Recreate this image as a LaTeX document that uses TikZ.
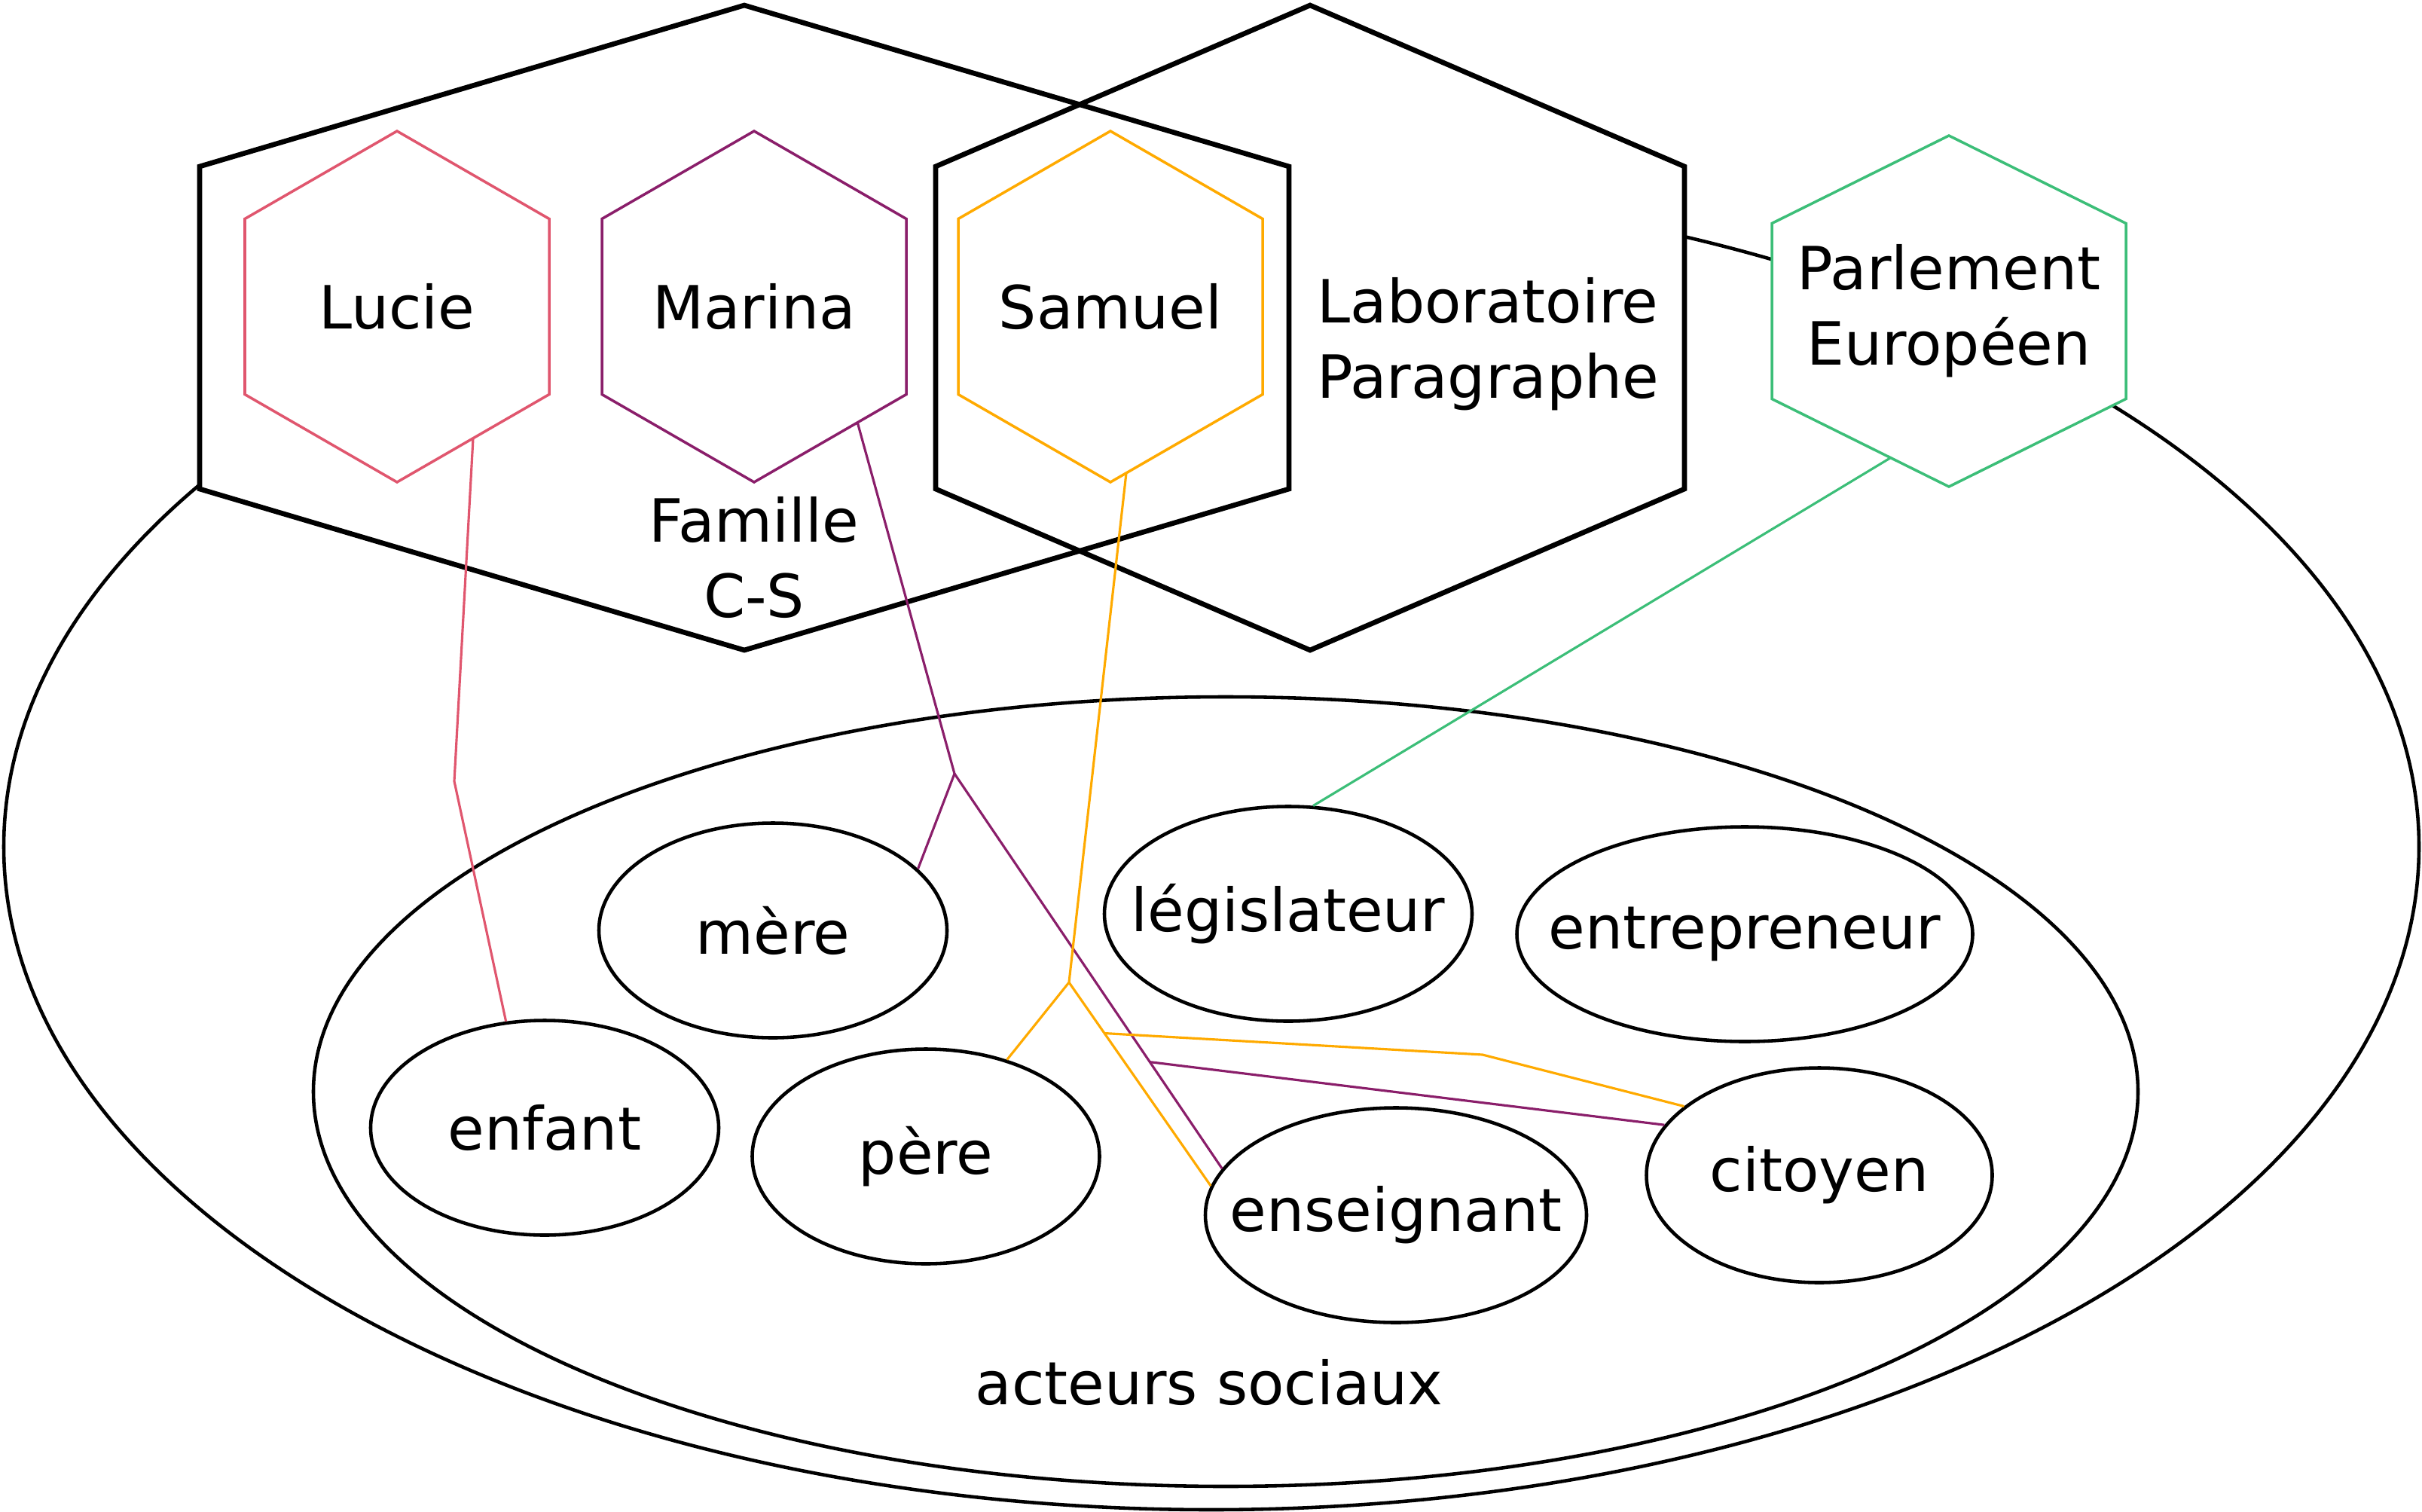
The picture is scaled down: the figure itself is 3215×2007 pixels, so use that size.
\documentclass[tikz,border=0pt]{standalone}
\usepackage{fontspec}
\setmainfont{DejaVu Sans}
\usepackage{tikz}
\usetikzlibrary{shapes.geometric, positioning, calc}
\definecolor{rose}{HTML}{E0566E}
\definecolor{prune}{HTML}{8A1E6A}
\definecolor{ambre}{HTML}{FFAA00}
\definecolor{vert}{HTML}{3CBE78}
% hexagon around a centre: [style]{centre}{half width}{half height}
\newcommand{\Hexagon}[4][]{%
  \path[#1] ($(#2)+(0,-#4)$) -- ++(#3,#4/2) -- ++(0,#4) -- ++(-#3,#4/2)
    -- ++(-#3,-#4/2) -- ++(0,-#4) -- cycle;}
\tikzset{
    every node/.append style={font=\fontsize{22.5}{28.5}\selectfont},
    role/.style={ellipse, draw, line width=1.3pt, inner ysep=0pt, inner xsep=-0.6cm, minimum height=2.85cm},
    group/.style={draw, line width=1.9pt},
    person/.style={line width=1pt},
    link/.style={line width=0.9pt},
}
\begin{document}
\begin{tikzpicture}[x=0.1mm, y=-0.1mm]
    \useasboundingbox (0,0) rectangle (3215,2007);

    \node[role, minimum width=32.06cm, minimum height=17.6cm] (monde) at (1608,1124) {};
    \node[role, minimum width=24.22cm, minimum height=10.48cm] (acteurs) at (1627,1449) {};
    \node (acteurs-label) at (1605,1835) {acteurs sociaux};

    % groups
    \coordinate (famille) at (988,435);
    \coordinate (labo) at (1739,435);
    \Hexagon[fill=white]{famille}{723}{428}
    \Hexagon[fill=white]{labo}{497}{428}
    \Hexagon[group]{famille}{723}{428}
    \Hexagon[group]{labo}{497}{428}
    \node[align=center] (famille-label) at (1001,740) {Famille\\C-S};
    \node[align=center] (labo-label) at (1975,457) {Laboratoire\\Paragraphe};

    % persons
    \node (lucie) at (527,407) {Lucie};
    \node (marina) at (1001,407) {Marina};
    \node (samuel) at (1474,407) {Samuel};
    \Hexagon[person, draw=rose]{lucie}{202}{233}
    \Hexagon[person, draw=prune]{marina}{202}{233}
    \Hexagon[person, draw=ambre]{samuel}{202}{233}
    \coordinate (parlement-c) at (2587,413);
    \Hexagon[person, draw=vert, fill=white]{parlement-c}{235}{233}
    \node[align=center] (parlement) at (parlement-c) {Parlement\\Européen};

    % roles
    \node[role, minimum width=4.62cm] (mere) at (1026,1235) {mère};
    \node[role, minimum width=4.62cm] (enfant) at (723,1497) {enfant};
    \node[role, minimum width=4.61cm] (pere) at (1229,1535) {père};
    \node[role, minimum width=4.88cm] (legislateur) at (1710,1213) {législateur};
    \node[role, minimum width=6.05cm] (entrepreneur) at (2316,1240) {entrepreneur};
    \node[role, minimum width=5.06cm] (enseignant) at (1853,1613) {enseignant};
    \node[role, minimum width=4.59cm] (citoyen) at (2415,1560) {citoyen};

    % Lucie
    \coordinate (lucie-out) at ($(lucie)+(101,175)$);
    \coordinate (lucie-bend) at (603,1037);
    \draw[link, rose] (lucie-out) -- (lucie-bend) -- (enfant.110);

    % Marina
    \coordinate (marina-out) at ($(marina)+(137,153)$);
    \coordinate (marina-fork) at (1267,1027);
    \draw[link, prune] (marina-out) -- (marina-fork) -- (mere.23);
    \draw[link, prune] (marina-fork) -- (enseignant.165);
    \coordinate (marina-split) at ($(marina-fork)!0.73!(enseignant.165)$);
    \draw[link, prune] (marina-split) -- (citoyen.162);

    % Samuel
    \coordinate (samuel-out) at ($(samuel)+(21,221)$);
    \coordinate (samuel-fork) at (1419,1304);
    \draw[link, ambre] (samuel-out) -- (samuel-fork) -- (pere.50);
    \draw[link, ambre] (samuel-fork) -- (enseignant.171);
    \coordinate (samuel-split) at ($(samuel-fork)!0.25!(enseignant.171)$);
    \coordinate (samuel-bend) at (1968,1400);
    \draw[link, ambre] (samuel-split) -- (samuel-bend) -- (citoyen.153);

    % Parlement
    \coordinate (parlement-out) at ($(parlement-c)+(-78,195)$);
    \draw[link, vert] (parlement-out) -- (legislateur.77);

\end{tikzpicture}
\end{document}
